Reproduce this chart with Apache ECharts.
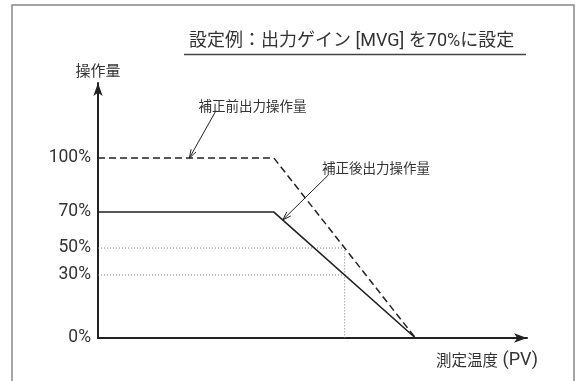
<!DOCTYPE html>
<html>
<head>
<meta charset="utf-8">
<script src="https://cdn.jsdelivr.net/npm/echarts@6/dist/echarts.min.js"></script>
<style>
  html, body { margin: 0; padding: 0; background: #fff; }
  #chart { width: 579px; height: 381px; }
</style>
</head>
<body>
<div id="chart"></div>
<script>
// 補正前 / 補正後 output curves (x: PV, y: %)
const beforeX = [0, 41, 74];
const beforeY = [100, 100, 0];
const afterX = [0, 41, 74];
const afterY = [70, 70, 0];

// dotted guide lines
const guide50 = [[0, 50], [57.5, 50], [57.5, 0]];
const guide30 = [[0, 35], [57.5, 35]];

// y tick positions and the labels printed at them
const yTickValues = [0, 35, 50, 70, 100];
const yTickLabels = ["0%", "30%", "50%", "70%", "100%"];

// annotations
const noteLabels = ["補正前出力操作量", "補正後出力操作量"];
const noteTextPos = [[36, 128.9], [64.8, 94.3]];
const noteArrowFrom = [[27.5, 126.3], [53.7, 90.6]];
const noteArrowTo = [[21.3, 100], [43.05, 65.6]];

const titleText = "設定例：出力ゲイン [MVG] を70%に設定";
const yName = "操作量";
const xNameMain = "測定温度";
const xNameUnit = " (PV)";

const ink = "#222";
const textColor = "#333";
const jpFont = '"Noto Sans CJK JP", sans-serif';
const numFont = 'Roboto, "Noto Sans CJK JP", sans-serif';

var dom = document.getElementById("chart");
var myChart = echarts.init(dom, null, { renderer: "canvas" });

function zip(xs, ys) {
  return xs.map((x, i) => [x, ys[i]]);
}

var option = {
  animation: false,
  title: {
    text: titleText,
    left: 189,
    top: 33,
    padding: 0,
    textStyle: {
      fontSize: 18,
      fontWeight: "normal",
      color: textColor,
      fontFamily: numFont,
    },
  },
  graphic: [
    {
      type: "rect",
      shape: { x: 12, y: 5, width: 562, height: 400 },
      style: { fill: "none", stroke: "#888", lineWidth: 1.5 },
      silent: true,
    },
    {
      type: "line",
      shape: { x1: 184, y1: 54.5, x2: 526, y2: 54.5 },
      style: { stroke: "#444", lineWidth: 1.5 },
      silent: true,
    },
  ],
  grid: { left: 98, right: 52, top: 83, bottom: 43 },
  xAxis: {
    type: "value",
    min: 0,
    max: 100,
    name: "{a|" + xNameMain + "}{b|" + xNameUnit + "}",
    nameLocation: "end",
    nameGap: 11,
    nameTextStyle: {
      color: textColor,
      align: "right",
      verticalAlign: "top",
      padding: [13, 0, 0, 0],
      rich: {
        a: { fontSize: 15.5, fontFamily: jpFont, color: textColor },
        b: { fontSize: 18, fontFamily: "Roboto, sans-serif", color: textColor },
      },
    },
    axisLine: {
      show: true,
      symbol: ["none", "arrow"],
      symbolSize: [7, 13],
      lineStyle: { color: ink, width: 2 },
    },
    axisTick: { show: false },
    axisLabel: { show: false },
    splitLine: { show: false },
  },
  yAxis: {
    type: "value",
    min: 0,
    max: 141.7,
    name: yName,
    nameLocation: "end",
    nameGap: 5,
    nameTextStyle: {
      fontSize: 15,
      color: textColor,
      fontFamily: jpFont,
    },
    axisLine: {
      show: true,
      symbol: ["none", "arrow"],
      symbolSize: [7, 13],
      lineStyle: { color: ink, width: 2 },
    },
    axisTick: { show: false },
    splitLine: { show: false },
    axisLabel: {
      customValues: yTickValues,
      formatter: (v) => {
        const i = yTickValues.indexOf(v);
        return i >= 0 ? yTickLabels[i] : "";
      },
      margin: 7,
      padding: [4, 0, 0, 0],
      fontSize: 17.5,
      color: textColor,
      fontFamily: numFont,
    },
  },
  series: [
    {
      type: "line",
      data: guide50,
      symbol: "none",
      silent: true,
      lineStyle: { color: "#777", width: 1, type: [1, 2] },
    },
    {
      type: "line",
      data: guide30,
      symbol: "none",
      silent: true,
      lineStyle: { color: "#777", width: 1, type: [1, 2] },
    },
    {
      type: "line",
      data: zip(beforeX, beforeY),
      symbol: "none",
      silent: true,
      lineStyle: { color: ink, width: 1.5, type: [7, 4] },
      z: 3,
    },
    {
      type: "line",
      data: zip(afterX, afterY),
      symbol: "none",
      silent: true,
      lineStyle: { color: ink, width: 1.6 },
      z: 3,
    },
    {
      // leader arrows
      type: "custom",
      silent: true,
      z: 5,
      data: noteArrowFrom.map((p, i) => [p[0], p[1], noteArrowTo[i][0], noteArrowTo[i][1]]),
      renderItem: function (params, api) {
        const a = api.coord([api.value(0), api.value(1)]);
        const b = api.coord([api.value(2), api.value(3)]);
        const ang = Math.atan2(b[1] - a[1], b[0] - a[0]);
        const L = 9, w = 0.32;
        const h1 = [b[0] - L * Math.cos(ang - w), b[1] - L * Math.sin(ang - w)];
        const h2 = [b[0] - L * Math.cos(ang + w), b[1] - L * Math.sin(ang + w)];
        return {
          type: "group",
          children: [
            {
              type: "line",
              shape: { x1: a[0], y1: a[1], x2: b[0], y2: b[1] },
              style: { stroke: ink, lineWidth: 1 },
            },
            {
              type: "polyline",
              shape: { points: [h1, b, h2] },
              style: { stroke: ink, lineWidth: 1, fill: null },
            },
          ],
        };
      },
    },
    {
      // annotation texts
      type: "custom",
      silent: true,
      z: 5,
      data: noteTextPos,
      renderItem: function (params, api) {
        const p = api.coord([api.value(0), api.value(1)]);
        return {
          type: "text",
          x: p[0],
          y: p[1],
          style: {
            text: noteLabels[params.dataIndex],
            fill: textColor,
            fontSize: 13.5,
            fontFamily: jpFont,
            align: "center",
            verticalAlign: "middle",
          },
        };
      },
    },
  ],
};

if (option && typeof option === "object") {
  myChart.setOption(option);
}
window.addEventListener("resize", myChart.resize);
</script>
</body>
</html>
